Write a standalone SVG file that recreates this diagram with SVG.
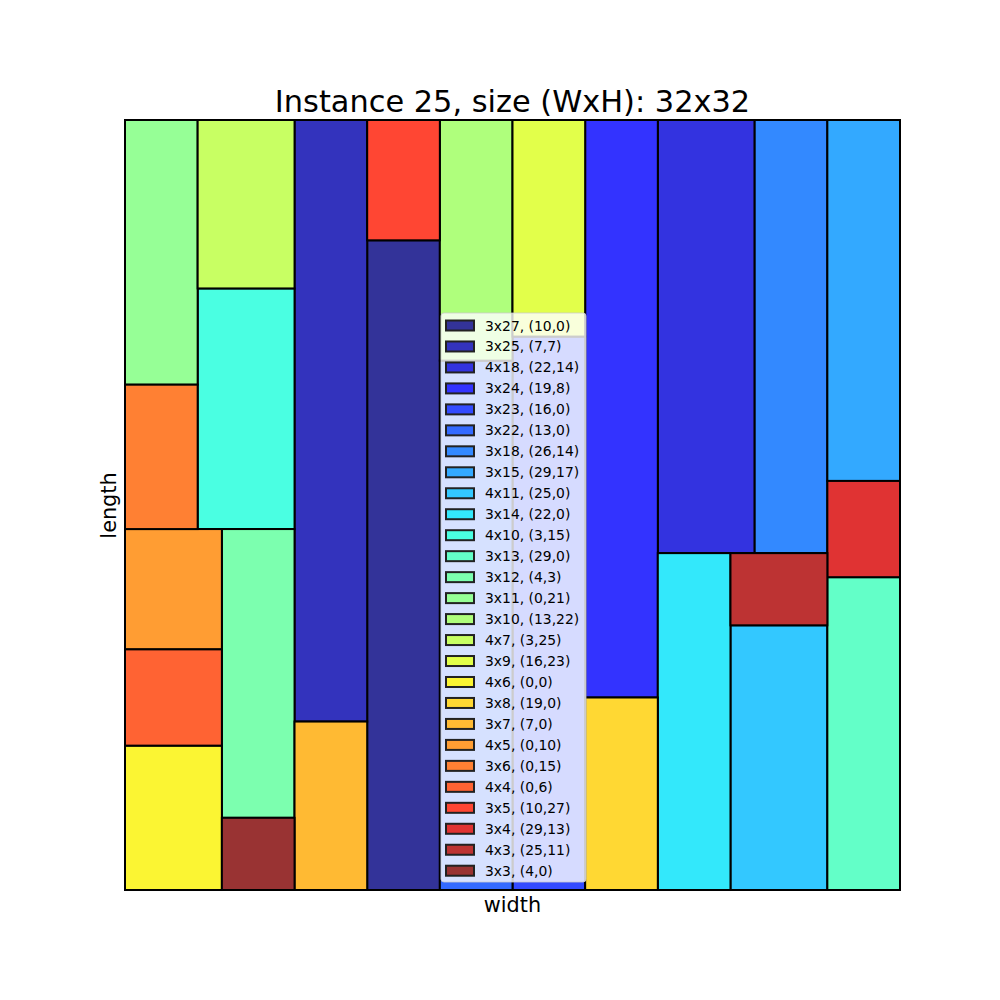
<svg xmlns="http://www.w3.org/2000/svg" width="1000" height="1000" viewBox="0 0 1000 1000">
<style>
.r{stroke:#000;stroke-width:2}
.p{stroke:#222;stroke-width:2}
.lt{font-family:"DejaVu Sans",sans-serif;font-size:13.9px;fill:#000}
.ax{font-family:"DejaVu Sans",sans-serif;font-size:20.8px;fill:#000}
</style>
<rect width="1000" height="1000" fill="#fff"/>
<g id="rects">
<rect id="r3x27" class="r" x="367.19" y="240.31" width="72.66" height="649.69" fill="#333399"/>
<rect id="r3x25" class="r" x="294.53" y="120" width="72.66" height="601.56" fill="#3333BD"/>
<rect id="r4x18" class="r" x="657.81" y="120" width="96.88" height="433.13" fill="#3333E0"/>
<rect id="r3x24" class="r" x="585.16" y="120" width="72.66" height="577.5" fill="#3333FF"/>
<rect id="r3x23" class="r" x="512.5" y="336.56" width="72.66" height="553.44" fill="#334BFF"/>
<rect id="r3x22" class="r" x="439.84" y="360.63" width="72.66" height="529.38" fill="#336AFF"/>
<rect id="r3x18" class="r" x="754.69" y="120" width="72.66" height="433.13" fill="#3389FF"/>
<rect id="r3x15" class="r" x="827.34" y="120" width="72.66" height="360.94" fill="#33A9FF"/>
<rect id="r4x11" class="r" x="730.47" y="625.31" width="96.88" height="264.69" fill="#33C8FF"/>
<rect id="r3x14" class="r" x="657.81" y="553.13" width="72.66" height="336.88" fill="#33E8FB"/>
<rect id="r4x10" class="r" x="197.66" y="288.44" width="96.88" height="240.63" fill="#4AFFE2"/>
<rect id="r3x13" class="r" x="827.34" y="577.19" width="72.66" height="312.81" fill="#63FFC8"/>
<rect id="r3x12" class="r" x="221.88" y="529.06" width="72.66" height="288.75" fill="#7CFFAF"/>
<rect id="r3x11" class="r" x="125" y="120" width="72.66" height="264.69" fill="#96FF96"/>
<rect id="r3x10" class="r" x="439.84" y="120" width="72.66" height="240.63" fill="#AFFF7C"/>
<rect id="r4x7" class="r" x="197.66" y="120" width="96.88" height="168.44" fill="#C8FF63"/>
<rect id="r3x9" class="r" x="512.5" y="120" width="72.66" height="216.56" fill="#E2FF4A"/>
<rect id="r4x6" class="r" x="125" y="745.63" width="96.88" height="144.38" fill="#FBF533"/>
<rect id="r3x8" class="r" x="585.16" y="697.5" width="72.66" height="192.5" fill="#FFD833"/>
<rect id="r3x7" class="r" x="294.53" y="721.56" width="72.66" height="168.44" fill="#FFBA33"/>
<rect id="r4x5" class="r" x="125" y="529.06" width="96.88" height="120.31" fill="#FF9D33"/>
<rect id="r3x6" class="r" x="125" y="384.69" width="72.66" height="144.38" fill="#FF8033"/>
<rect id="r4x4" class="r" x="125" y="649.38" width="96.88" height="96.25" fill="#FF6333"/>
<rect id="r3x5" class="r" x="367.19" y="120" width="72.66" height="120.31" fill="#FF4633"/>
<rect id="r3x4" class="r" x="827.34" y="480.94" width="72.66" height="96.25" fill="#E03333"/>
<rect id="r4x3" class="r" x="730.47" y="553.13" width="96.88" height="72.19" fill="#BD3333"/>
<rect id="r3x3" class="r" x="221.88" y="817.81" width="72.66" height="72.19" fill="#993333"/>
</g>
<rect id="frame" x="125" y="120" width="775" height="770" fill="none" stroke="#000" stroke-width="1.6"/>
<g id="connectors"/>
<text class="ax" x="512.5" y="112" text-anchor="middle" style="font-size:30.4px">Instance 25, size (WxH): 32x32</text>
<text class="ax" x="512.5" y="911.5" text-anchor="middle">width</text>
<text class="ax" transform="translate(116,505.5) rotate(-90)" text-anchor="middle">length</text>
<g id="legend">
<rect x="441" y="313" width="145" height="569" rx="3" fill="#fff" fill-opacity="0.8" stroke="#ccc" stroke-opacity="0.8" stroke-width="1"/>
<g transform="translate(0,325.5)">
<rect class="p" x="446" y="-5" width="28" height="10" fill="#333399"/><text class="lt" x="485" y="5">3x27, (10,0)</text>
</g>
<g transform="translate(0,346.47)"><rect class="p" x="446" y="-5" width="28" height="10" fill="#3333BD"/><text class="lt" x="485" y="5">3x25, (7,7)</text></g>
<g transform="translate(0,367.44)"><rect class="p" x="446" y="-5" width="28" height="10" fill="#3333E0"/><text class="lt" x="485" y="5">4x18, (22,14)</text></g>
<g transform="translate(0,388.41)"><rect class="p" x="446" y="-5" width="28" height="10" fill="#3333FF"/><text class="lt" x="485" y="5">3x24, (19,8)</text></g>
<g transform="translate(0,409.38)"><rect class="p" x="446" y="-5" width="28" height="10" fill="#334BFF"/><text class="lt" x="485" y="5">3x23, (16,0)</text></g>
<g transform="translate(0,430.35)"><rect class="p" x="446" y="-5" width="28" height="10" fill="#336AFF"/><text class="lt" x="485" y="5">3x22, (13,0)</text></g>
<g transform="translate(0,451.32)"><rect class="p" x="446" y="-5" width="28" height="10" fill="#3389FF"/><text class="lt" x="485" y="5">3x18, (26,14)</text></g>
<g transform="translate(0,472.29)"><rect class="p" x="446" y="-5" width="28" height="10" fill="#33A9FF"/><text class="lt" x="485" y="5">3x15, (29,17)</text></g>
<g transform="translate(0,493.26)"><rect class="p" x="446" y="-5" width="28" height="10" fill="#33C8FF"/><text class="lt" x="485" y="5">4x11, (25,0)</text></g>
<g transform="translate(0,514.23)"><rect class="p" x="446" y="-5" width="28" height="10" fill="#33E8FB"/><text class="lt" x="485" y="5">3x14, (22,0)</text></g>
<g transform="translate(0,535.2)"><rect class="p" x="446" y="-5" width="28" height="10" fill="#4AFFE2"/><text class="lt" x="485" y="5">4x10, (3,15)</text></g>
<g transform="translate(0,556.17)"><rect class="p" x="446" y="-5" width="28" height="10" fill="#63FFC8"/><text class="lt" x="485" y="5">3x13, (29,0)</text></g>
<g transform="translate(0,577.14)"><rect class="p" x="446" y="-5" width="28" height="10" fill="#7CFFAF"/><text class="lt" x="485" y="5">3x12, (4,3)</text></g>
<g transform="translate(0,598.11)"><rect class="p" x="446" y="-5" width="28" height="10" fill="#96FF96"/><text class="lt" x="485" y="5">3x11, (0,21)</text></g>
<g transform="translate(0,619.08)"><rect class="p" x="446" y="-5" width="28" height="10" fill="#AFFF7C"/><text class="lt" x="485" y="5">3x10, (13,22)</text></g>
<g transform="translate(0,640.05)"><rect class="p" x="446" y="-5" width="28" height="10" fill="#C8FF63"/><text class="lt" x="485" y="5">4x7, (3,25)</text></g>
<g transform="translate(0,661.02)"><rect class="p" x="446" y="-5" width="28" height="10" fill="#E2FF4A"/><text class="lt" x="485" y="5">3x9, (16,23)</text></g>
<g transform="translate(0,681.99)"><rect class="p" x="446" y="-5" width="28" height="10" fill="#FBF533"/><text class="lt" x="485" y="5">4x6, (0,0)</text></g>
<g transform="translate(0,702.96)"><rect class="p" x="446" y="-5" width="28" height="10" fill="#FFD833"/><text class="lt" x="485" y="5">3x8, (19,0)</text></g>
<g transform="translate(0,723.93)"><rect class="p" x="446" y="-5" width="28" height="10" fill="#FFBA33"/><text class="lt" x="485" y="5">3x7, (7,0)</text></g>
<g transform="translate(0,744.9)"><rect class="p" x="446" y="-5" width="28" height="10" fill="#FF9D33"/><text class="lt" x="485" y="5">4x5, (0,10)</text></g>
<g transform="translate(0,765.87)"><rect class="p" x="446" y="-5" width="28" height="10" fill="#FF8033"/><text class="lt" x="485" y="5">3x6, (0,15)</text></g>
<g transform="translate(0,786.84)"><rect class="p" x="446" y="-5" width="28" height="10" fill="#FF6333"/><text class="lt" x="485" y="5">4x4, (0,6)</text></g>
<g transform="translate(0,807.81)"><rect class="p" x="446" y="-5" width="28" height="10" fill="#FF4633"/><text class="lt" x="485" y="5">3x5, (10,27)</text></g>
<g transform="translate(0,828.78)"><rect class="p" x="446" y="-5" width="28" height="10" fill="#E03333"/><text class="lt" x="485" y="5">3x4, (29,13)</text></g>
<g transform="translate(0,849.75)"><rect class="p" x="446" y="-5" width="28" height="10" fill="#BD3333"/><text class="lt" x="485" y="5">4x3, (25,11)</text></g>
<g transform="translate(0,870.72)"><rect class="p" x="446" y="-5" width="28" height="10" fill="#993333"/><text class="lt" x="485" y="5">3x3, (4,0)</text></g>
</g>
</svg>
